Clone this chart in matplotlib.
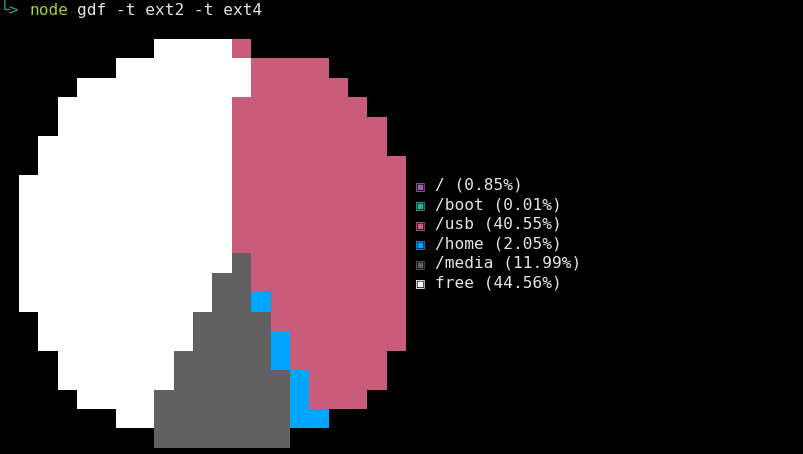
import numpy as np
import matplotlib
matplotlib.use("Agg")
import matplotlib.pyplot as plt
from matplotlib.colors import to_rgba

# legend entries (mount point, share of disk)
mounts = ["/", "/boot", "/usb", "/home", "/media", "free"]
percents = [0.85, 0.01, 40.55, 2.05, 11.99, 44.56]
colors = ["#9a5fa6", "#2fae96", "#c85c7a", "#00a5ff", "#616161", "#ffffff"]
keys = ["R", "B", "U", "H", "M", "W"]

# raster of the terminal pie, one letter per 2-char cell ('.' = empty)
pie_rows = [
    ".......WWWWU........",
    ".....WWWWWWWUUUU....",
    "...WWWWWWWWWUUUUU...",
    "..WWWWWWWWWUUUUUUU..",
    "..WWWWWWWWWUUUUUUUU.",
    ".WWWWWWWWWWUUUUUUUU.",
    ".WWWWWWWWWWUUUUUUUUU",
    "WWWWWWWWWWWUUUUUUUUU",
    "WWWWWWWWWWWUUUUUUUUU",
    "WWWWWWWWWWWUUUUUUUUU",
    "WWWWWWWWWWWUUUUUUUUU",
    "WWWWWWWWWWWMUUUUUUUU",
    "WWWWWWWWWWMMUUUUUUUU",
    "WWWWWWWWWWMMHUUUUUUU",
    ".WWWWWWWWMMMMUUUUUUU",
    ".WWWWWWWWMMMMHUUUUUU",
    "..WWWWWWMMMMMHUUUUU.",
    "..WWWWWWMMMMMMHUUUU.",
    "...WWWWMMMMMMMHUUU..",
    ".....WWMMMMMMMHH....",
    ".......MMMMMMM......",
]

prompt_cmd = "gdf -t ext2 -t ext4"

# terminal geometry (pixels)
CHAR_W = 9.675
LINE_H = 19.47
TOP = 0.36
FS = 11.6
MONO = ["DejaVu Sans Mono", "DejaVu Sans"]

fig = plt.figure(figsize=(8.04, 4.54), dpi=100, facecolor="black")
ax = fig.add_axes([0, 0, 1, 1])
ax.set_facecolor("black")
ax.set_xlim(0, 804)
ax.set_ylim(454, 0)
ax.axis("off")

# pie raster
lookup = {k: to_rgba(c) for k, c in zip(keys, colors)}
lookup["."] = (0, 0, 0, 0)
img = np.array([[lookup[ch] for ch in row] for row in pie_rows])
n_rows, n_cols = len(pie_rows), len(pie_rows[0])
x0 = 2 * CHAR_W
y0 = TOP + 2 * LINE_H
ax.imshow(img, interpolation="nearest", aspect="auto",
          extent=[x0, x0 + n_cols * 2 * CHAR_W, y0 + n_rows * LINE_H, y0])

# legend
for i, (m, p, c) in enumerate(zip(mounts, percents, colors)):
    y = TOP + (9 + i + 0.5) * LINE_H
    ax.text(43 * CHAR_W, y, "\u25a3", color=c, fontsize=FS * 0.9,
            family=MONO, va="center", ha="left")
    ax.text(45 * CHAR_W, y, f"{m} ({p:.2f}%)", color="#e6e6e6",
            fontsize=FS, family=MONO, va="center", ha="left")

# prompt line
yp = TOP + 0.5 * LINE_H
ax.text(0, yp, "\u2514>", color="#2aa198", fontsize=FS, family=MONO,
        va="center", ha="left")
ax.text(3 * CHAR_W, yp, "node", color="#a6cc2e", fontsize=FS, family=MONO,
        va="center", ha="left")
ax.text(8 * CHAR_W, yp, prompt_cmd, color="#e6e6e6", fontsize=FS,
        family=MONO, va="center", ha="left")

fig.savefig("out.png", dpi=100, facecolor="black")
